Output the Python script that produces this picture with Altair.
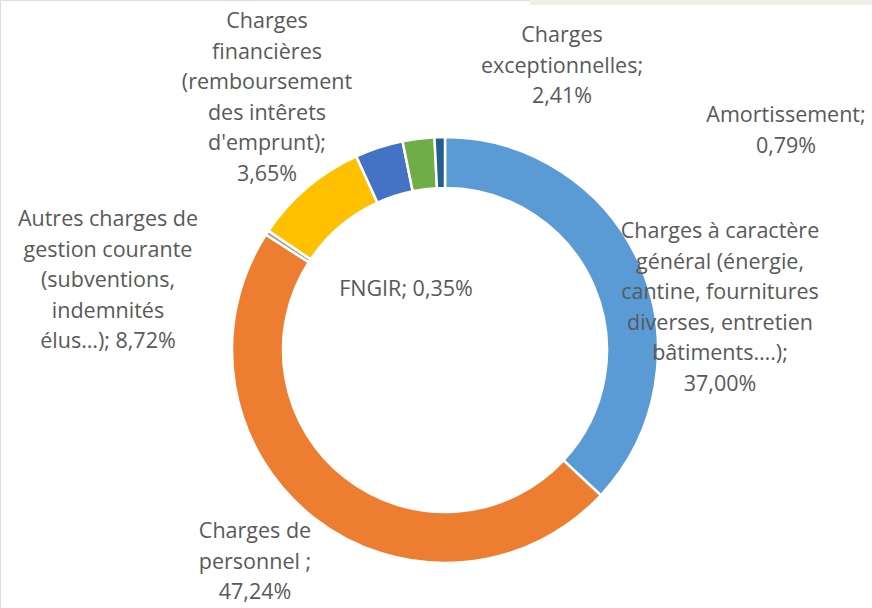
import altair as alt
import pandas as pd

# ---- data ----
categories = [
    "Charges à caractère général (énergie, cantine, fournitures diverses, entretien bâtiments….)",
    "Charges de personnel",
    "FNGIR",
    "Autres charges de gestion courante (subventions, indemnités élus…)",
    "Charges financières (remboursement des intêrets d'emprunt)",
    "Charges exceptionnelles",
    "Amortissement",
]
values = [37.00, 47.24, 0.35, 8.72, 3.65, 2.41, 0.79]
colors = ["#5B9BD5", "#ED7D31", "#A5A5A5", "#FFC000", "#4472C4", "#70AD47", "#255E91"]

# wrapped label lines (name part), value appended from `values`
label_lines = [
    ["Charges à caractère", "général (énergie,", "cantine, fournitures", "diverses, entretien", "bâtiments….);"],
    ["Charges de", "personnel ;"],
    ["FNGIR; "],
    ["Autres charges de", "gestion courante", "(subventions,", "indemnités", "élus…); "],
    ["Charges", "financières", "(remboursement", "des intêrets", "d'emprunt);"],
    ["Charges", "exceptionnelles;"],
    ["Amortissement;"],
]

# ---- layout (label anchor positions = centre of first line, pixels) ----
label_x = [720, 255, 406, 108, 267, 562, 786]
label_y = [232, 532, 290, 220, 22, 36, 116]


def fmt(v):
    return f"{v:.2f}".replace(".", ",") + "%"


texts = []
for lines, v in zip(label_lines, values):
    lines = list(lines)
    if lines[-1].endswith(" "):
        lines[-1] = lines[-1] + fmt(v)
    else:
        lines.append(fmt(v))
    texts.append(lines)

df = pd.DataFrame({"cat": categories, "value": values, "idx": list(range(len(values)))})
lab = pd.DataFrame({"cat": categories, "text": texts, "lx": label_x, "ly": label_y})

CX, CY = 445, 350

arc = alt.Chart(df).mark_arc(
    outerRadius=213, innerRadius=162, stroke="white", strokeWidth=2.5, x=CX, y=CY
).encode(
    theta=alt.Theta("value:Q", stack=True),
    color=alt.Color("cat:N", scale=alt.Scale(domain=categories, range=colors), legend=None),
    order=alt.Order("idx:Q"),
)

labels = alt.Chart(lab).mark_text(
    font="Open Sans", fontSize=21.5, color="#595959", align="center", baseline="middle", lineHeight=30.5
).encode(
    x=alt.X("lx:Q", scale=None),
    y=alt.Y("ly:Q", scale=None),
    text="text",
)

deco = alt.Chart(pd.DataFrame({"a": [0]})).mark_rect(color="#F0EEE9").encode(
    x=alt.value(530), x2=alt.value(872), y=alt.value(0), y2=alt.value(5)
)

chart = alt.layer(deco, arc, labels).properties(
    width=872, height=608, autosize=alt.AutoSizeParams(type="none"), padding=0
).configure_view(stroke=None).configure(background="white")

chart.save("out.html", embed_options={"renderer": "svg", "actions": False})
